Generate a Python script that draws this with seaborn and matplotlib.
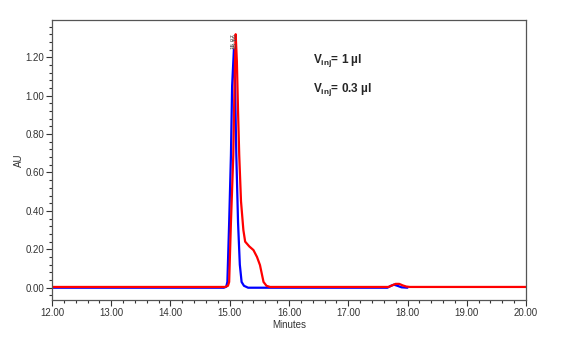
import matplotlib
matplotlib.use("Agg")
import matplotlib.pyplot as plt
import seaborn as sns
import pandas as pd
import numpy as np
from matplotlib.ticker import MultipleLocator, FormatStrFormatter

# ---- data ----
blue_time = [12.00, 14.90, 14.94, 14.96, 14.99, 15.02, 15.04, 15.07, 15.09, 15.11,
             15.14, 15.17, 15.20, 15.24, 15.31, 17.66, 17.72, 17.77, 17.83, 17.90, 18.00]
blue_au = [0.0, 0.0, 0.005, 0.03, 0.34, 0.69, 1.05, 1.24, 1.05, 0.70,
           0.34, 0.12, 0.03, 0.01, 0.0, 0.0, 0.010, 0.016, 0.010, 0.002, 0.0]

red_time = [12.00, 14.92, 14.97, 14.99, 15.02, 15.06, 15.08, 15.10, 15.12, 15.14,
            15.16, 15.19, 15.23, 15.26, 15.33, 15.40, 15.46, 15.51, 15.57, 15.62,
            15.68, 17.68, 17.74, 17.80, 17.86, 17.92, 17.98, 18.04, 20.00]
red_au = [0.004, 0.004, 0.01, 0.03, 0.34, 0.69, 1.05, 1.32, 1.18, 0.92,
          0.69, 0.45, 0.30, 0.24, 0.215, 0.196, 0.16, 0.118, 0.03, 0.01,
          0.004, 0.004, 0.012, 0.020, 0.020, 0.012, 0.006, 0.004, 0.004]

peak_labels = ["15.07", "15.10"]
peak_times = [15.07, 15.10]
annot_texts = [r"V$_{\mathbf{inj}}$= 1 µl", r"V$_{\mathbf{inj}}$= 0.3 µl"]

x_ticks = [12, 13, 14, 15, 16, 17, 18, 19, 20]
y_ticks = [0.0, 0.2, 0.4, 0.6, 0.8, 1.0, 1.2]

sns.set_style("ticks")
plt.rcParams['font.family'] = ['Liberation Sans', 'DejaVu Sans']
plt.rcParams['mathtext.fontset'] = 'custom'
plt.rcParams['mathtext.rm'] = 'Liberation Sans:bold'
plt.rcParams['mathtext.bf'] = 'Liberation Sans:bold'

fig = plt.figure(figsize=(5.67, 3.38), dpi=100)
ax = fig.add_axes([0.0917, 0.1124, 0.836, 0.8284])

df_b = pd.DataFrame({"Minutes": blue_time, "AU": blue_au})
df_r = pd.DataFrame({"Minutes": red_time, "AU": red_au})
sns.lineplot(data=df_b, x="Minutes", y="AU", ax=ax, color="#0000ff", lw=1.6, sort=False)
sns.lineplot(data=df_r, x="Minutes", y="AU", ax=ax, color="#ff0000", lw=1.6, sort=False)

ax.set_xlim(12, 20)
ax.set_ylim(-0.064, 1.394)
ax.set_xticks(x_ticks)
ax.set_yticks(y_ticks)
ax.xaxis.set_major_formatter(FormatStrFormatter("%.2f"))
ax.yaxis.set_major_formatter(FormatStrFormatter("%.2f"))
ax.xaxis.set_minor_locator(MultipleLocator(0.2))
ax.yaxis.set_minor_locator(MultipleLocator(0.04))
ax.tick_params(which="major", length=4, width=0.8, labelsize=7, colors="#333333", pad=1.5)
ax.tick_params(which="minor", length=2.5, width=0.8, colors="#333333")
for s in ax.spines.values():
    s.set_color("#555555")
    s.set_linewidth(0.9)
    s.set_visible(True)

ax.set_xlabel("Minutes", fontsize=7, color="#333333", labelpad=1.5)
ax.set_ylabel("AU", fontsize=7, color="#333333", labelpad=1)

for lab, t in zip(peak_labels, peak_times):
    ax.text(t - 0.012, 1.245, lab, rotation=90, fontsize=4.5, color="#444444",
            ha="center", va="bottom")

ax.text(16.40, 1.17, annot_texts[0], fontsize=8.5, fontweight="bold", va="baseline")
ax.text(16.40, 1.02, annot_texts[1], fontsize=8.5, fontweight="bold", va="baseline")

fig.savefig("out.png", dpi=100)
